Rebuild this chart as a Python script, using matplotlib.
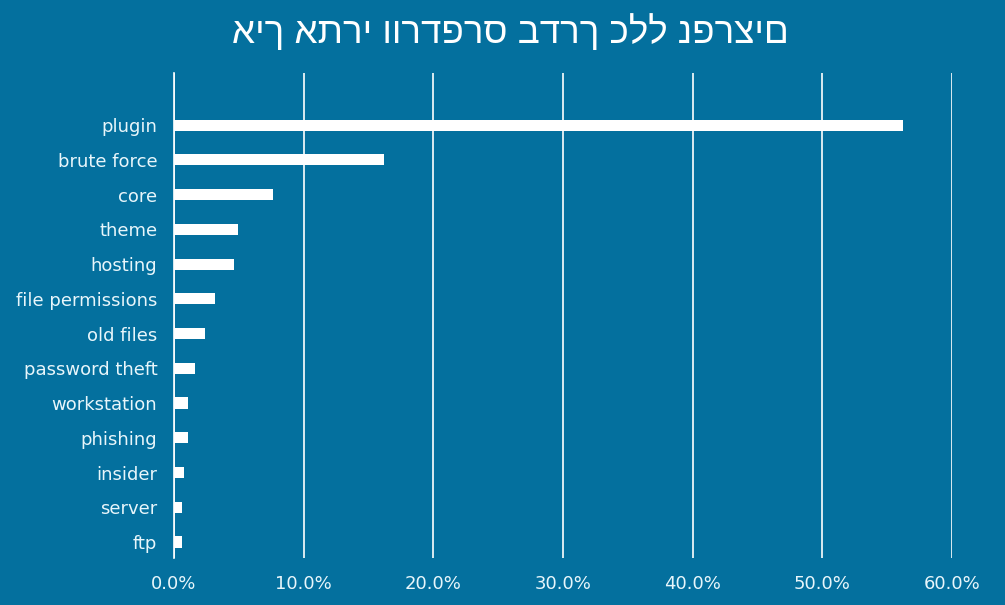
import matplotlib
matplotlib.use("Agg")
import matplotlib.pyplot as plt
from matplotlib.ticker import FuncFormatter

title = "איך אתרי וורדפרס בדרך כלל נפרצים"
categories = ["plugin", "brute force", "core", "theme", "hosting", "file permissions",
              "old files", "password theft", "workstation", "phishing", "insider",
              "server", "ftp"]
values = [56.2, 16.2, 7.6, 4.9, 4.6, 3.2, 2.4, 1.6, 1.1, 1.1, 0.8, 0.6, 0.6]
xticks = [0, 10, 20, 30, 40, 50, 60]

bg = "#04709e"
fig = plt.figure(figsize=(10.05, 6.05), dpi=100, facecolor=bg)
ax = fig.add_axes([174/1005, 1-558/605, (952-174)/1005, (558-73)/605])
ax.set_facecolor(bg)

n = len(categories)
ypos = list(range(n - 1, -1, -1))
ax.barh(ypos, values, height=0.32, color="white", zorder=3)
ax.set_xlim(0, 60)
ax.set_ylim(-0.46, n + 0.5)
ax.set_xticks(xticks)
ax.xaxis.set_major_formatter(FuncFormatter(lambda v, p: f"{v:.1f}%"))
ax.set_yticks(ypos)
ax.set_yticklabels(categories)
ax.grid(axis="x", color="white", linewidth=1.2, zorder=1)
for s in ["top", "right", "bottom"]:
    ax.spines[s].set_visible(False)
ax.spines["left"].set_color("white")
ax.spines["left"].set_linewidth(1.2)
ax.tick_params(axis="both", length=0, colors="#e8f6fb", labelsize=13)
ax.tick_params(axis="y", pad=12)
ax.tick_params(axis="x", pad=12)
for lab in ax.get_xticklabels() + ax.get_yticklabels():
    lab.set_fontfamily("DejaVu Sans")

fig.text(0.508, 1-33/605, title, ha="center", va="center", color="white",
         fontsize=26.5, family="Liberation Sans")

fig.savefig("out.png", dpi=100, facecolor=bg)
